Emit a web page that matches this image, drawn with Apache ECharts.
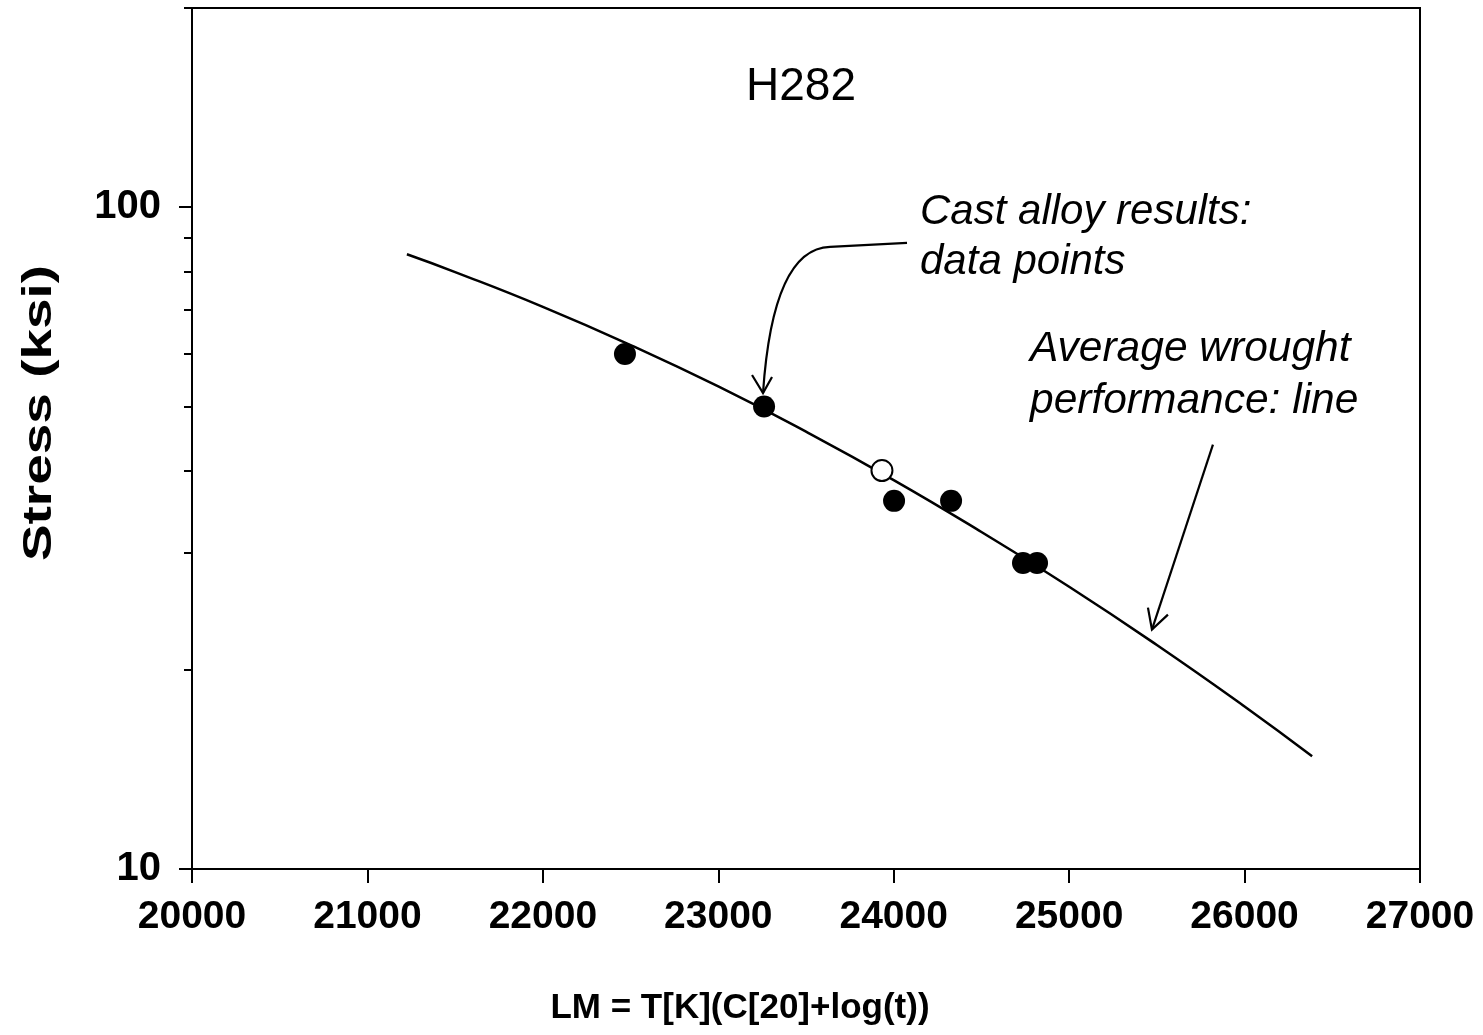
<!DOCTYPE html>
<html>
<head>
<meta charset="utf-8">
<script src="https://cdn.jsdelivr.net/npm/echarts@6/dist/echarts.min.js"></script>
<style>
html,body{margin:0;padding:0;background:#fff;}
#chart{width:1483px;height:1035px;}
</style>
</head>
<body>
<div id="chart"></div>
<script>
// ---- data ----
const yMajorTicks = [10, 100];
const yMinorTicks = [20, 30, 40, 50, 60, 70, 80, 90, 200];
const curveLM = [21225, 21500, 22000, 22500, 23000, 23500, 24000, 24500, 25000, 25500, 26000, 26385];
const curveStress = [84.9, 79.8, 70.7, 61.9, 53.6, 45.8, 38.7, 32.3, 26.7, 21.8, 17.6, 14.8];
const castFilledLM = [22468, 23261, 24002, 24327, 24737, 24817];
const castFilledStress = [60, 50, 36, 36, 29, 29];
const castOpenLM = [23933];
const castOpenStress = [40];
const titleText = 'H282';
const xTitle = 'LM = T[K](C[20]+log(t))';
const yTitle = 'Stress (ksi)';
const note1 = ['Cast alloy results:', 'data points'];
const note2 = ['Average wrought', 'performance: line'];

const FONT = '"Liberation Sans", Arial, Helvetica, sans-serif';
const chart = echarts.init(document.getElementById('chart'), null, {renderer: 'canvas'});

const zip = (a, b) => a.map((v, i) => [v, b[i]]);

chart.setOption({
  animation: false,
  backgroundColor: '#fff',
  grid: {left: 192, right: 63, top: 8, bottom: 166, show: true, borderColor: '#000', borderWidth: 2, backgroundColor: 'transparent'},
  xAxis: {
    type: 'value', min: 20000, max: 27000, interval: 1000,
    axisLine: {show: true, onZero: false, lineStyle: {color: '#000', width: 2}},
    axisTick: {show: true, inside: false, length: 14, lineStyle: {color: '#000', width: 2}},
    axisLabel: {color: '#000', fontSize: 39, fontWeight: 'bold', fontFamily: FONT, margin: 29,
      formatter: v => String(v)},
    splitLine: {show: false}
  },
  yAxis: [{
    type: 'log', logBase: 10, min: 10, max: 200,
    axisLine: {show: true, onZero: false, lineStyle: {color: '#000', width: 2}},
    axisTick: {show: true, inside: false, length: 13, lineStyle: {color: '#000', width: 2}, customValues: yMajorTicks},
    axisLabel: {color: '#000', fontSize: 40, fontWeight: 'bold', fontFamily: FONT, margin: 31, customValues: yMajorTicks},
    splitLine: {show: false},
    minorTick: {show: false}
  }, {
    type: 'log', logBase: 10, min: 10, max: 200, position: 'left',
    axisLine: {show: false},
    axisTick: {show: true, inside: false, length: 8, lineStyle: {color: '#000', width: 2}, customValues: yMinorTicks},
    axisLabel: {show: false},
    splitLine: {show: false}
  }],
  series: [{
    type: 'line', data: zip(curveLM, curveStress), smooth: true, showSymbol: false,
    lineStyle: {color: '#000', width: 2.5, opacity: 1}, z: 2
  }, {
    type: 'scatter', data: zip(castFilledLM, castFilledStress), symbol: 'circle', symbolSize: 22,
    itemStyle: {color: '#000', opacity: 1}, z: 3
  }, {
    type: 'scatter', data: zip(castOpenLM, castOpenStress), symbol: 'circle', symbolSize: 21,
    itemStyle: {color: '#fff', borderColor: '#000', borderWidth: 2, opacity: 1}, z: 3
  }]
});

// annotation arrows anchored to data coordinates
const tip1 = chart.convertToPixel({xAxisIndex: 0, yAxisIndex: 0}, [23255, 52.4]);
const tip2 = chart.convertToPixel({xAxisIndex: 0, yAxisIndex: 0}, [25472, 23.0]);
const ls = {stroke: '#000', lineWidth: 2.2, fill: null};
const at = (p, dx, dy) => [p[0] + dx, p[1] + dy];

chart.setOption({
  graphic: [
    {type: 'text', x: 801, y: 87, style: {text: titleText, fontSize: 46, fontFamily: FONT, fill: '#000', align: 'center', verticalAlign: 'middle'}},
    {type: 'text', x: 740, y: 1008, style: {text: xTitle, fontSize: 35, fontWeight: 'bold', fontFamily: FONT, fill: '#000', align: 'center', verticalAlign: 'middle'}},
    {type: 'text', x: 40, y: 413, rotation: Math.PI / 2, scaleX: 1.34,
      style: {text: yTitle, fontSize: 41, fontWeight: 'bold', fontFamily: FONT, fill: '#000', align: 'center', verticalAlign: 'middle'}},
    {type: 'text', x: 920, y: 237, style: {text: note1.join('\n'), fontSize: 42, lineHeight: 50, fontStyle: 'italic', fontFamily: FONT, fill: '#000', align: 'left', verticalAlign: 'middle'}},
    {type: 'text', x: 1030, y: 375, style: {text: note2.join('\n'), fontSize: 42.5, lineHeight: 52, fontStyle: 'italic', fontFamily: FONT, fill: '#000', align: 'left', verticalAlign: 'middle'}},
    {type: 'polyline', shape: {points: [at(tip1, 144, -150), at(tip1, 67, -146)]}, style: ls},
    {type: 'bezierCurve', shape: {
      x1: tip1[0] + 67, y1: tip1[1] - 146,
      cpx1: tip1[0] + 32, cpy1: tip1[1] - 145,
      cpx2: tip1[0] + 7, cpy2: tip1[1] - 103,
      x2: tip1[0], y2: tip1[1]}, style: ls},
    {type: 'polyline', shape: {points: [at(tip1, -11, -18), tip1, at(tip1, 9, -16)]}, style: ls},
    {type: 'line', shape: {x1: tip2[0] + 61, y1: tip2[1] - 185, x2: tip2[0], y2: tip2[1]}, style: ls},
    {type: 'polyline', shape: {points: [at(tip2, -4, -22), tip2, at(tip2, 16, -15)]}, style: ls}
  ]
});
</script>
</body>
</html>
